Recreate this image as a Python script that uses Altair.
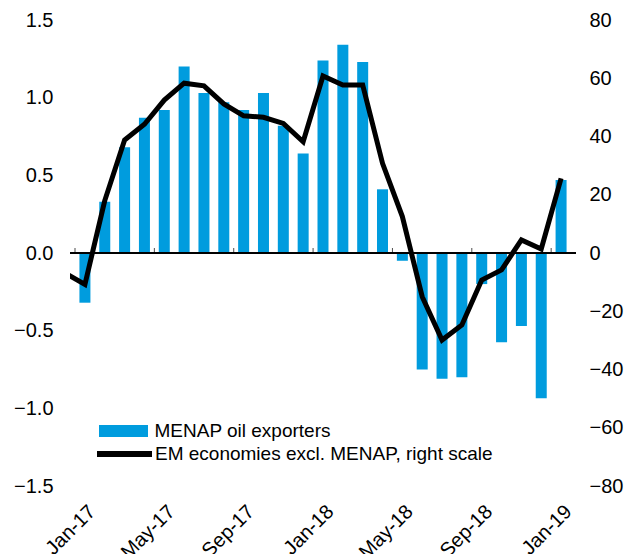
import altair as alt
import pandas as pd

# ---- data ----
months = ["Jan-17", "Feb-17", "Mar-17", "Apr-17", "May-17", "Jun-17", "Jul-17",
          "Aug-17", "Sep-17", "Oct-17", "Nov-17", "Dec-17", "Jan-18", "Feb-18",
          "Mar-18", "Apr-18", "May-18", "Jun-18", "Jul-18", "Aug-18", "Sep-18",
          "Oct-18", "Nov-18", "Dec-18", "Jan-19"]
menap_oil = [-0.32, 0.33, 0.68, 0.87, 0.92, 1.20, 1.03, 0.97, 0.92, 1.03, 0.82,
             0.64, 1.24, 1.34, 1.23, 0.41, -0.05, -0.75, -0.81, -0.80, -0.20,
             -0.575, -0.47, -0.935, 0.47]
line_months = ["Dec-16"] + months
em_excl_menap = [-6.9, -10.8, 18.0, 38.8, 44.2, 52.5, 58.3, 57.4, 51.2, 47.1,
                 46.6, 44.5, 38.2, 60.8, 57.7, 57.7, 30.8, 12.5, -15.0, -29.9,
                 -24.7, -9.3, -5.8, 4.5, 1.4, 25.6]
tick_labels = ["Jan-17", "May-17", "Sep-17", "Jan-18", "May-18", "Sep-18", "Jan-19"]
left_ticks = [-1.5, -1.0, -0.5, 0.0, 0.5, 1.0, 1.5]
right_ticks = [-80, -60, -40, -20, 0, 20, 40, 60, 80]

BAR_NAME = "MENAP oil exporters"
LINE_NAME = "EM economies excl. MENAP, right scale"
BLUE = "#009CDE"
FONT = "Liberation Sans"

bar_df = pd.DataFrame({
    "pos": [i + 0.5 for i in range(len(months))],
    "month": months,
    "value": menap_oil,
    "series": BAR_NAME,
})
line_df = pd.DataFrame({
    "pos": [i - 0.5 for i in range(len(line_months))],
    "month": line_months,
    "value": em_excl_menap,
    "series": LINE_NAME,
})
tick_df = pd.DataFrame({
    "pos": [months.index(t) for t in tick_labels],
    "label": tick_labels,
})

n = len(months)
xscale = alt.Scale(domain=[0, n], nice=False, zero=False)
yleft = alt.Scale(domain=[-1.5, 1.5], nice=False)
label_expr = "[" + ",".join("'%s'" % t for t in tick_labels) + "][floor(datum.value / 4)]"

bars = alt.Chart(bar_df).mark_bar(size=11).encode(
    x=alt.X("pos:Q", scale=xscale,
            axis=alt.Axis(values=[i * 4 + 0.5 for i in range(len(tick_labels))],
                          labelExpr=label_expr, labelAngle=-45, labelAlign="right",
                          labelBaseline="top", labelPadding=15, ticks=False,
                          domain=False, grid=False, title=None, labelFontSize=20,
                          labelColor="black", labelFont=FONT)),
    y=alt.Y("value:Q", scale=yleft,
            axis=alt.Axis(values=left_ticks, format=".1f", ticks=False, domain=False,
                          grid=False, title=None, labelPadding=17, labelFontSize=20,
                          labelColor="black", labelFont=FONT, orient="left")),
    color=alt.Color("series:N", scale=alt.Scale(domain=[BAR_NAME], range=[BLUE]),
                    legend=alt.Legend(title=None, orient="none", legendX=29, legendY=386.5,
                                      symbolType="M-1,-0.245H1V0.245H-1Z",
                                      symbolSize=2401, symbolStrokeWidth=0,
                                      labelFontSize=19, labelFont=FONT, labelLimit=600,
                                      labelColor="black", labelOffset=6.5, padding=0)),
)

zero_rule = alt.Chart(tick_df).mark_rule(color="black", strokeWidth=1).encode(
    y=alt.Y(datum=0, scale=yleft),
)

zero_ticks = alt.Chart(tick_df).mark_tick(
    orient="vertical", size=5, thickness=1, color="black", yOffset=-2.5
).encode(
    x=alt.X("pos:Q", scale=xscale),
    y=alt.Y(datum=0, scale=yleft),
)

left_layer = alt.layer(bars, zero_rule, zero_ticks)

line = alt.Chart(line_df).mark_line(strokeWidth=5, clip=True).encode(
    x=alt.X("pos:Q", scale=xscale),
    y=alt.Y("value:Q", scale=alt.Scale(domain=[-80, 80], nice=False),
            axis=alt.Axis(values=right_ticks, format="d", ticks=False, domain=False,
                          grid=False, title=None, labelPadding=13, labelFontSize=20,
                          labelColor="black", labelFont=FONT, orient="right")),
    color=alt.Color("series:N", scale=alt.Scale(domain=[LINE_NAME], range=["black"]),
                    legend=alt.Legend(title=None, orient="none", legendX=24, legendY=403.5,
                                      symbolType="stroke", symbolSize=3025,
                                      symbolStrokeWidth=6,
                                      labelFontSize=19, labelFont=FONT, labelLimit=600,
                                      labelColor="black", labelOffset=0, padding=0)),
)

chart = alt.layer(left_layer, line).resolve_scale(
    y="independent", color="independent"
).properties(
    width=506, height=466,
    autosize=alt.AutoSizeParams(type="none"),
    padding={"left": 62, "top": 12, "right": 48, "bottom": 68},
).configure(
    font=FONT, background="white"
).configure_view(stroke=None)

chart.save("out.html", embed_options={"renderer": "svg", "actions": False})
